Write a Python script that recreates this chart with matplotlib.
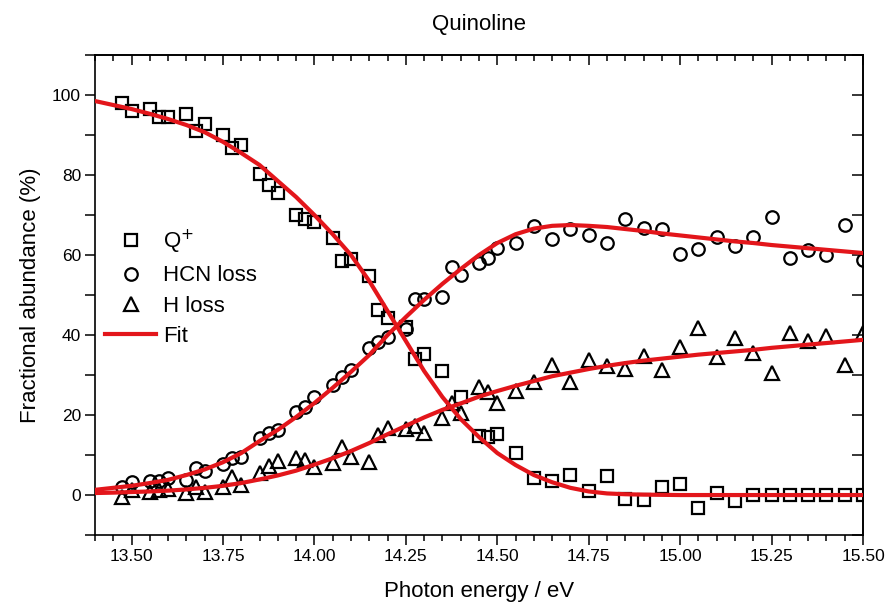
import matplotlib
matplotlib.use("Agg")
import matplotlib.pyplot as plt
from matplotlib.ticker import MultipleLocator

plt.rcParams['font.family'] = ['Liberation Sans', 'DejaVu Sans']

# measured points
q_x = [13.475, 13.5, 13.55, 13.575, 13.6, 13.65, 13.675, 13.7, 13.75, 13.775, 13.8,
       13.85, 13.875, 13.9, 13.95, 13.975, 14.0, 14.05, 14.075, 14.1, 14.15, 14.175,
       14.2, 14.25, 14.275, 14.3, 14.35, 14.4, 14.45, 14.475, 14.5, 14.55, 14.6, 14.65,
       14.7, 14.75, 14.8, 14.85, 14.9, 14.95, 15.0, 15.05, 15.1, 15.15, 15.2, 15.25,
       15.3, 15.35, 15.4, 15.45, 15.5]
q_y = [98.1, 95.9, 96.6, 94.4, 94.4, 95.3, 90.9, 92.7, 90.1, 86.8, 87.6,
       80.2, 77.4, 75.4, 70.1, 69.0, 68.2, 64.2, 58.5, 58.9, 54.8, 46.2,
       44.3, 42.1, 34.0, 35.3, 30.9, 24.4, 14.8, 14.4, 15.2, 10.4, 4.2, 3.6,
       5.0, 1.1, 4.8, -0.9, -1.3, 2.1, 2.8, -3.2, 0.6, -1.6, 0.0, 0.0,
       0.0, 0.0, 0.0, 0.0, 0.0]

loss_x = [13.475, 13.5, 13.55, 13.575, 13.6, 13.65, 13.675, 13.7, 13.75, 13.775, 13.8,
          13.85, 13.875, 13.9, 13.95, 13.975, 14.0, 14.05, 14.075, 14.1, 14.15, 14.175,
          14.2, 14.25, 14.275, 14.3, 14.35, 14.375, 14.4, 14.45, 14.475, 14.5, 14.55,
          14.6, 14.65, 14.7, 14.75, 14.8, 14.85, 14.9, 14.95, 15.0, 15.05, 15.1, 15.15,
          15.2, 15.25, 15.3, 15.35, 15.4, 15.45, 15.5]
hcn_y = [2.1, 3.2, 3.4, 3.6, 4.2, 3.8, 6.7, 6.1, 7.8, 9.2, 9.4,
         14.2, 15.6, 16.3, 20.7, 22.1, 24.4, 27.4, 29.4, 31.2, 36.8, 38.3,
         39.4, 41.5, 48.9, 48.9, 49.6, 57.1, 55.0, 58.1, 59.3, 61.7, 63.1,
         67.3, 63.9, 66.5, 65.0, 62.9, 68.9, 66.7, 66.5, 60.3, 61.4, 64.4, 62.3,
         64.6, 69.6, 59.2, 61.3, 60.0, 67.5, 58.8]
h_y = [-0.6, 1.2, 0.8, 1.3, 1.6, 0.4, 2.0, 0.8, 2.1, 4.6, 2.6,
       5.4, 7.2, 8.5, 9.2, 8.8, 7.0, 7.9, 11.9, 9.4, 8.2, 15.0,
       16.7, 16.5, 17.2, 15.4, 19.2, 22.9, 20.4, 26.9, 25.8, 22.9, 26.0,
       28.3, 32.5, 28.3, 33.8, 32.3, 31.4, 34.8, 31.3, 36.9, 41.7, 34.6, 39.2,
       35.4, 30.4, 40.4, 38.5, 39.8, 32.5, 40.6]

# fit curves
fit_x = [13.40, 13.45, 13.50, 13.55, 13.60, 13.65, 13.70, 13.75, 13.80, 13.85, 13.90,
         13.95, 14.00, 14.05, 14.10, 14.15, 14.20, 14.25, 14.30, 14.35, 14.40, 14.45,
         14.50, 14.55, 14.60, 14.65, 14.70, 14.75, 14.80, 14.85, 14.90, 14.95, 15.00,
         15.05, 15.10, 15.15, 15.20, 15.25, 15.30, 15.35, 15.40, 15.45, 15.50]
fit_q = [98.5, 97.5, 96.5, 95.3, 94.0, 92.5, 90.7, 88.3, 85.5, 82.5, 78.5,
         74.5, 70.0, 65.2, 60.0, 53.5, 46.0, 38.5, 31.0, 24.5, 19.0, 14.5,
         10.5, 7.5, 5.0, 3.2, 1.8, 0.9, 0.4, 0.2, 0.1, 0.05, 0.0,
         0.0, 0.0, 0.0, 0.0, 0.0, 0.0, 0.0, 0.0, 0.0, 0.0]
fit_hcn = [1.3, 1.8, 2.3, 3.0, 3.8, 5.0, 6.4, 8.2, 10.5, 13.5, 16.3,
           19.5, 23.0, 26.8, 30.8, 35.0, 40.0, 44.5, 48.8, 52.8, 56.5, 60.0,
           63.0, 65.2, 66.6, 67.3, 67.5, 67.3, 67.0, 66.5, 66.0, 65.4, 64.9,
           64.4, 63.9, 63.4, 63.0, 62.5, 62.1, 61.7, 61.3, 60.9, 60.5]
fit_h = [0.5, 0.6, 0.75, 0.9, 1.1, 1.4, 1.8, 2.3, 3.0, 3.9, 4.9,
         6.1, 7.6, 9.2, 11.0, 13.0, 15.2, 17.3, 19.4, 21.3, 22.9, 24.6,
         26.0, 27.3, 28.5, 29.7, 30.6, 31.5, 32.3, 33.0, 33.6, 34.1, 34.6,
         35.1, 35.5, 35.9, 36.3, 36.8, 37.2, 37.6, 38.0, 38.4, 38.8]

RED = '#e3161b'

fig = plt.figure(figsize=(8.9, 6.08), dpi=100)
ax = fig.add_axes([0.1067, 0.12, 0.863, 0.7895])

mk = dict(linestyle='none', markerfacecolor='none', markeredgecolor='black',
          markeredgewidth=1.6, zorder=3)
ax.plot(q_x, q_y, marker='s', markersize=8.3, label='Q$^{+}$', **mk)
ax.plot(loss_x, hcn_y, marker='o', markersize=9, label='HCN loss', **mk)
ax.plot(loss_x, h_y, marker='^', markersize=9.5, label='H loss', **mk)

ax.plot(fit_x, fit_q, color=RED, lw=3, zorder=4, label='Fit')
ax.plot(fit_x, fit_hcn, color=RED, lw=3, zorder=4)
ax.plot(fit_x, fit_h, color=RED, lw=3, zorder=4)

ax.set_xlim(13.4, 15.5)
ax.set_ylim(-10, 110)
ax.xaxis.set_major_locator(MultipleLocator(0.25))
ax.xaxis.set_minor_locator(MultipleLocator(0.05))
ax.yaxis.set_major_locator(MultipleLocator(20))
ax.yaxis.set_minor_locator(MultipleLocator(10))
ax.xaxis.set_major_formatter(plt.FormatStrFormatter('%.2f'))
ax.tick_params(axis='both', which='major', direction='out', length=7, width=1.1,
               labelsize=12.5, pad=3)
ax.tick_params(axis='x', which='minor', direction='out', length=4, width=1.1)
ax.tick_params(axis='y', which='minor', direction='out', length=7, width=1.1)
for s in ax.spines.values():
    s.set_linewidth(1.2)

top = ax.secondary_xaxis('top')
top.xaxis.set_major_locator(MultipleLocator(0.25))
top.xaxis.set_minor_locator(MultipleLocator(0.05))
top.tick_params(which='major', direction='in', length=7, width=1.1, labeltop=False)
top.tick_params(which='minor', direction='in', length=4, width=1.1)
top.spines['top'].set_linewidth(1.2)

right = ax.secondary_yaxis('right')
right.yaxis.set_major_locator(MultipleLocator(10))
right.tick_params(which='major', direction='in', length=8, width=1.1, labelright=False)
right.spines['right'].set_linewidth(1.2)

ax.set_xlabel('Photon energy / eV', fontsize=16, labelpad=12)
ax.set_ylabel('Fractional abundance (%)', fontsize=16, labelpad=8)
ax.set_title('Quinoline', fontsize=16, pad=18)

ax.legend(loc='upper left', bbox_to_anchor=(0.013, 0.64), frameon=False,
          fontsize=16, borderaxespad=0, handlelength=2.3, handletextpad=0.3,
          labelspacing=0.42, borderpad=0)

fig.savefig('out.png', dpi=100)
